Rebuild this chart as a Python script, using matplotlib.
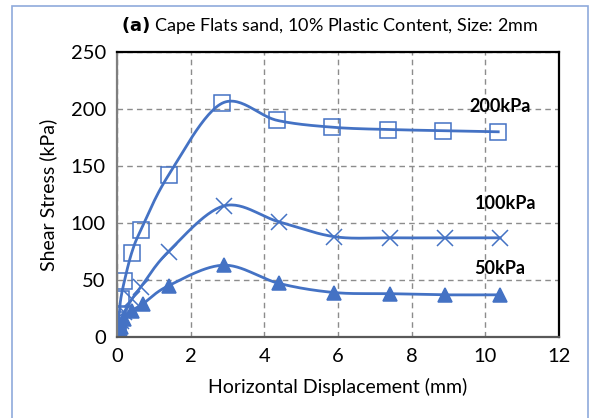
import numpy as np
import matplotlib.pyplot as plt
from matplotlib.patches import Rectangle

# displacement (mm) and shear stress (kPa) for each normal load
x_200 = [0, 0.02, 0.04, 0.06, 0.1, 0.2, 0.4, 0.65, 1.4, 2.85, 4.35, 5.85, 7.35, 8.85, 10.35]
y_200 = [0, 10, 15, 20, 33, 49, 74, 94, 142, 205, 190, 184, 182, 181, 180]
x_100 = [0, 0.05, 0.1, 0.2, 0.4, 0.65, 1.4, 2.9, 4.4, 5.9, 7.4, 8.9, 10.4]
y_100 = [0, 8, 14, 22, 33, 44, 75, 115, 101, 88, 87, 87, 87]
x_50 = [0, 0.05, 0.1, 0.2, 0.4, 0.7, 1.4, 2.9, 4.4, 5.9, 7.4, 8.9, 10.4]
y_50 = [0, 5, 9, 16, 23, 29, 45, 63, 47, 39, 38, 37, 37]

loads = ['200kPa', '100kPa', '50kPa']
blue = '#4472C4'


def smooth(x, y, n=30):
    # catmull-rom through the points, like a smoothed Excel line
    p = np.column_stack([x, y]).astype(float)
    p = np.vstack([p[0] - (p[1] - p[0]), p, p[-1] + (p[-1] - p[-2])])
    out = []
    for i in range(1, len(p) - 2):
        p0, p1, p2, p3 = p[i - 1], p[i], p[i + 1], p[i + 2]
        t = np.linspace(0, 1, n)[:, None]
        m1 = (p2 - p0) / 2
        m2 = (p3 - p1) / 2
        h00 = 2 * t**3 - 3 * t**2 + 1
        h10 = t**3 - 2 * t**2 + t
        h01 = -2 * t**3 + 3 * t**2
        h11 = t**3 - t**2
        out.append(h00 * p1 + h10 * m1 + h01 * p2 + h11 * m2)
    c = np.vstack(out)
    return c[:, 0], c[:, 1]


plt.rcParams['font.family'] = ['Lato', 'DejaVu Sans']
fig = plt.figure(figsize=(5.91, 4.18), dpi=100)
ax = fig.add_axes([117 / 591, 1 - 337 / 418, (559 - 117) / 591, (337 - 52) / 418])

fig.patches.append(Rectangle((12 / 591, -0.05), 576 / 591, 1.05 - 6 / 418,
                             transform=fig.transFigure, fill=False,
                             edgecolor='#8FAADC', lw=1.2))

for xs, ys, m, ms, face in [(x_200, y_200, 's', 12, 'none'),
                            (x_100, y_100, 'x', 12, 'none'),
                            (x_50, y_50, '^', 10, blue)]:
    sx, sy = smooth(xs, ys)
    ax.plot(sx, sy, color=blue, lw=2)
    ax.plot(xs, ys, linestyle='none', marker=m, markersize=ms,
            markerfacecolor=face, markeredgecolor=blue, markeredgewidth=1.1)

ax.text(10.4, 202, loads[0], fontsize=13, fontweight='bold', ha='center', va='center')
ax.text(10.55, 117, loads[1], fontsize=13, fontweight='bold', ha='center', va='center')
ax.text(10.4, 60, loads[2], fontsize=13, fontweight='bold', ha='center', va='center')

ax.set_xlim(0, 12)
ax.set_ylim(0, 250)
ax.set_xticks(range(0, 13, 2))
ax.set_yticks(range(0, 251, 50))
ax.grid(True, linestyle=(0, (4, 3)), color='#8C8C8C', lw=1)
ax.set_axisbelow(True)
for s in ax.spines.values():
    s.set_linewidth(1.6)
    s.set_color('black')
ax.spines['left'].set_color('#7F7F7F')
ax.spines['bottom'].set_color('#595959')
ax.tick_params(length=0, labelsize=14.5, pad=8)
ax.set_xlabel('Horizontal Displacement (mm)', fontsize=14, labelpad=9)
ax.set_ylabel('Shear Stress (kPa)', fontsize=14, labelpad=10)

fig.text(0.557, 1 - 26 / 418, r'$\bf{(a)}$ Cape Flats sand, 10% Plastic Content, Size: 2mm',
         ha='center', va='center', fontsize=13)

fig.savefig('out.png', dpi=100)
